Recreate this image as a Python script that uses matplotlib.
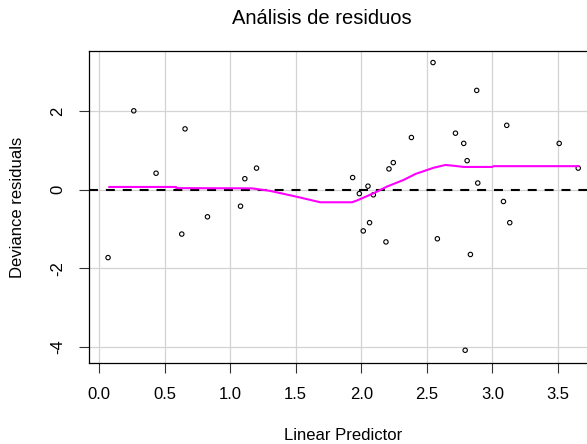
import matplotlib
matplotlib.use("Agg")
import matplotlib.pyplot as plt

plt.rcParams['font.family'] = ['Liberation Sans', 'DejaVu Sans']
plt.rcParams['axes.unicode_minus'] = False

# Scatter data (linear predictor, deviance residual)
lin_pred = [0.069, 0.265, 0.435, 0.631, 0.656, 0.827, 1.079, 1.112, 1.201,
            1.934, 1.985, 2.015, 2.051, 2.063, 2.092, 2.188, 2.211, 2.244,
            2.382, 2.547, 2.580, 2.718, 2.781, 2.792, 2.807, 2.832, 2.880,
            2.888, 3.084, 3.109, 3.132, 3.509, 3.654]
dev_resid = [-1.73, 2.01, 0.42, -1.13, 1.55, -0.69, -0.42, 0.28, 0.55,
             0.31, -0.10, -1.05, 0.09, -0.84, -0.13, -1.33, 0.53, 0.69,
             1.33, 3.24, -1.25, 1.44, 1.18, -4.09, 0.74, -1.65, 2.53,
             0.17, -0.30, 1.64, -0.84, 1.18, 0.55]

# Smoothed trend line
smooth_x = [0.079, 0.588, 0.59, 1.165, 1.305, 1.509, 1.687, 1.929, 1.97,
            2.094, 2.196, 2.323, 2.412, 2.552, 2.641, 2.705, 2.781, 2.997,
            3.01, 3.654]
smooth_y = [0.07, 0.07, 0.04, 0.035, -0.03, -0.18, -0.32, -0.32, -0.27,
            -0.09, 0.08, 0.25, 0.40, 0.56, 0.63, 0.61, 0.58, 0.58,
            0.60, 0.60]

x_ticks = [0.0, 0.5, 1.0, 1.5, 2.0, 2.5, 3.0, 3.5]
x_tick_labels = ["0.0", "0.5", "1.0", "1.5", "2.0", "2.5", "3.0", "3.5"]
y_ticks = [-4, -2, 0, 2]
y_tick_labels = ["-4", "-2", "0", "2"]

W, H = 587, 444
fig = plt.figure(figsize=(W / 100, H / 100), dpi=100)
ax = fig.add_axes([89 / W, 1 - 363 / H, 1 - 89 / W, (363 - 51) / H])

ax.set_xlim(-0.0763, 3.721)
ax.set_ylim(-4.415, 3.534)

ax.grid(True, color='#d3d3d3', linewidth=0.9)
ax.set_axisbelow(True)

ax.scatter(lin_pred, dev_resid, s=10, facecolors='none', edgecolors='black',
           linewidths=0.8, zorder=3)
ax.axhline(0, color='black', linewidth=1.5, linestyle=(0, (4.3, 3.8)), zorder=4)
ax.plot(smooth_x, smooth_y, color='#FF00FF', linewidth=1.5, zorder=5)

ax.set_xticks(x_ticks)
ax.set_xticklabels(x_tick_labels)
ax.set_yticks(y_ticks)
ax.set_yticklabels(y_tick_labels, rotation=90, va='center')

ax.tick_params(axis='both', length=7.2, width=0.8, labelsize=12, color='#333333')
ax.tick_params(axis='x', pad=10)
ax.tick_params(axis='y', pad=10)

for s in ['left', 'top', 'bottom']:
    ax.spines[s].set_color('black')
    ax.spines[s].set_linewidth(0.9)
ax.spines['right'].set_visible(False)

fig.text(321.7 / W, 1 - 19 / H, "Análisis de residuos", ha='center', va='center',
         fontsize=14.5)
fig.text(343.3 / W, 1 - 435 / H, "Linear Predictor", ha='center', va='center',
         fontsize=12)
fig.text(18 / W, 1 - 207.5 / H, "Deviance residuals", ha='center', va='center',
         rotation=90, fontsize=12)

fig.savefig("out.png", dpi=100)
